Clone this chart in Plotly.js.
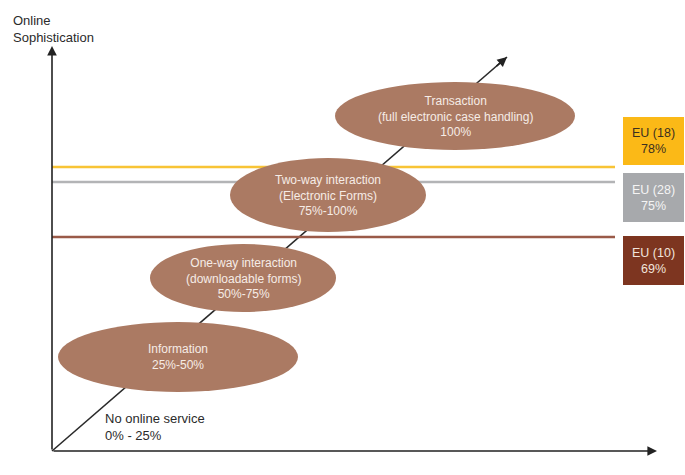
<!DOCTYPE html>
<html>
<head>
<meta charset="utf-8">
<script src="https://cdn.plot.ly/plotly-3.0.1.min.js"></script>
<style>html,body{margin:0;padding:0;background:#fff;}</style>
</head>
<body>
<div id="chart" style="width:685px;height:475px;"></div>
<script>
// Stages of online sophistication (diagram coordinates)
const stageLabels = [
  "Information<br>25%-50%",
  "One-way interaction<br>(downloadable forms)<br>50%-75%",
  "Two-way interaction<br>(Electronic Forms)<br>75%-100%",
  "Transaction<br>(full electronic case handling)<br>100%"
];
const stageX = [178, 243, 328, 455];
const stageY = [357, 278, 195, 116];
const stageRX = [120, 93, 98, 120];
const stageRY = [35, 34, 37, 34];

// EU benchmark groups
const groupNames = ["EU (18)", "EU (28)", "EU (10)"];
const groupValues = ["78%", "75%", "69%"];
const groupLineY = [167, 182, 237];
const groupBoxTop = [117, 173, 236];
const groupBoxBottom = [165, 222, 285];
const groupColors = ["#f8c436", "#b3b4b6", "#9a5a48"];
const groupBoxColors = ["#fbb917", "#a7a9ac", "#7d3520"];
const groupTextColors = ["#3b3020", "#f4f4f4", "#f1e4dc"];

const origin = [52, 451];
const diagTip = [507, 57];

const traces = [];
// diagonal progression line
traces.push({
  x: [origin[0], diagTip[0]], y: [origin[1], diagTip[1]],
  mode: "lines", line: {color: "#2a2a2a", width: 1.6},
  hoverinfo: "skip", showlegend: false
});
// benchmark lines
groupNames.forEach((g, i) => {
  traces.push({
    x: [origin[0], 615], y: [groupLineY[i], groupLineY[i]],
    mode: "lines", line: {color: groupColors[i], width: 2.5},
    hoverinfo: "skip", showlegend: false, name: g
  });
});

const shapes = [];
stageLabels.forEach((s, i) => {
  shapes.push({
    type: "circle", xref: "x", yref: "y",
    x0: stageX[i] - stageRX[i], x1: stageX[i] + stageRX[i],
    y0: stageY[i] - stageRY[i], y1: stageY[i] + stageRY[i],
    fillcolor: "#ab7a63", line: {width: 0}, layer: "above"
  });
});
groupNames.forEach((g, i) => {
  shapes.push({
    type: "rect", xref: "x", yref: "y",
    x0: 623, x1: 684, y0: groupBoxTop[i], y1: groupBoxBottom[i],
    fillcolor: groupBoxColors[i], line: {width: 0}, layer: "above"
  });
});

const annotations = [];
// axes arrows
annotations.push({
  x: origin[0], y: 46, ax: origin[0], ay: origin[1], xref: "x", yref: "y", axref: "x", ayref: "y",
  showarrow: true, arrowhead: 2, arrowsize: 1.2, arrowwidth: 1.6, arrowcolor: "#222", text: ""
});
annotations.push({
  x: 657, y: origin[1], ax: origin[0], ay: origin[1], xref: "x", yref: "y", axref: "x", ayref: "y",
  showarrow: true, arrowhead: 2, arrowsize: 1.2, arrowwidth: 1.6, arrowcolor: "#222", text: ""
});
// diagonal arrow tip
annotations.push({
  x: diagTip[0], y: diagTip[1], ax: diagTip[0] - 12, ay: diagTip[1] + 10.4, xref: "x", yref: "y", axref: "x", ayref: "y",
  showarrow: true, arrowhead: 2, arrowsize: 1.2, arrowwidth: 1.6, arrowcolor: "#222", text: ""
});
// stage labels
stageLabels.forEach((s, i) => {
  annotations.push({
    x: stageX[i], y: stageY[i], xref: "x", yref: "y", text: s, showarrow: false,
    font: {family: "Liberation Sans, Arial, sans-serif", size: 12, color: "#f6ece6"},
    align: "center", xanchor: "center", yanchor: "middle"
  });
});
// group labels
groupNames.forEach((g, i) => {
  annotations.push({
    x: 653.5, y: (groupBoxTop[i] + groupBoxBottom[i]) / 2, xref: "x", yref: "y",
    text: g + "<br>" + groupValues[i], showarrow: false,
    font: {family: "Liberation Sans, Arial, sans-serif", size: 12.5, color: groupTextColors[i]},
    align: "center", xanchor: "center", yanchor: "middle"
  });
});
// no online service
annotations.push({
  x: 103, y: 427, xref: "x", yref: "y", text: "No online service<br>0% - 25%", showarrow: false,
  font: {family: "Liberation Sans, Arial, sans-serif", size: 13, color: "#2b2b2b"},
  align: "left", xanchor: "left", yanchor: "middle"
});
// axis title
annotations.push({
  x: 11, y: 29, xref: "x", yref: "y", text: "Online<br>Sophistication", showarrow: false,
  font: {family: "Liberation Sans, Arial, sans-serif", size: 13, color: "#2b2b2b"},
  align: "left", xanchor: "left", yanchor: "middle"
});

const layout = {
  width: 685, height: 475,
  margin: {l: 0, r: 0, t: 0, b: 0},
  paper_bgcolor: "#ffffff", plot_bgcolor: "#ffffff",
  xaxis: {range: [0, 685], visible: false, fixedrange: true},
  yaxis: {range: [475, 0], visible: false, fixedrange: true},
  shapes: shapes, annotations: annotations, showlegend: false
};
Plotly.newPlot("chart", traces, layout, {displayModeBar: false, staticPlot: true});
</script>
</body>
</html>
